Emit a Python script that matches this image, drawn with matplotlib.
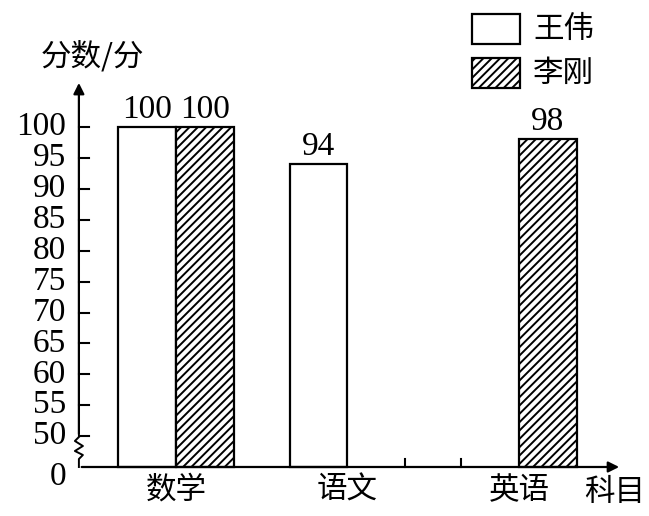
import numpy as np
import matplotlib.pyplot as plt
from matplotlib.patches import Rectangle

subjects = ['数学', '语文', '英语']
wang_scores = [100, 94, None]
li_scores = [100, None, 98]
series_names = ['王伟', '李刚']
y_ticks = [50, 55, 60, 65, 70, 75, 80, 85, 90, 95, 100]

cjk = ['Noto Sans CJK SC', 'DejaVu Sans']
num_font = ['Liberation Serif', 'DejaVu Serif']
plt.rcParams['hatch.linewidth'] = 1.4
li_hatch = '////'


def t(v):
    # broken axis: 0 sits where 45 would be
    return 0 if v == 0 else v - 45


fig = plt.figure(figsize=(6.49, 5.16), dpi=100)
ax = fig.add_axes([0, 0, 1, 1])
ax.set_xlim(-1.026, 2.758)
ax.set_ylim(-7.93, 75.57)
ax.axis('off')

w = 0.338
x = np.arange(len(subjects))
x0 = -0.566
px = 1 / 171.5
py = 1 / 6.18

# bars
for i, (vals, hatch) in enumerate([(wang_scores, None), (li_scores, li_hatch)]):
    off = (i - 0.5) * w
    for xi, v in zip(x, vals):
        if v is None:
            # small mark where the missing bar would have its outer edge
            edge = xi + off + (w / 2 if i == 1 else -w / 2)
            ax.plot([edge, edge], [0, 8 * py], color='black', lw=1.5)
            continue
        ax.bar(xi + off, t(v), w, color='white', edgecolor='black', lw=1.6, hatch=hatch)
        ax.text(xi + off, t(v) + 0.4, str(v), ha='center', va='bottom',
                fontsize=24, family=num_font)

# axes
ax.annotate('', xy=(x0, 62.6), xytext=(x0, 4.85),
            arrowprops=dict(arrowstyle='-|>', lw=1.6, color='black', mutation_scale=16))
ax.annotate('', xy=(2.6, 0), xytext=(x0, 0),
            arrowprops=dict(arrowstyle='-|>', lw=1.6, color='black', mutation_scale=16))
zx = [0, -4, 4, -4, 4, 0, 0]
zy = [437, 441, 446, 451, 455, 459, 467]
ax.plot([x0 + a * px for a in zx], [(467 - b) * py for b in zy], color='black', lw=1.4)

for v in y_ticks:
    ax.plot([x0, x0 + 10 * px], [t(v), t(v)], color='black', lw=1.5)
    ax.text(x0 - 13 * px, t(v), str(v), ha='right', va='center', fontsize=24, family=num_font)
ax.text(x0 - 13 * px, t(0) - 10 * py, '0', ha='right', va='center', fontsize=24, family=num_font)

for xi, s in zip(x, subjects):
    ax.text(xi, -3.8, s, ha='center', va='center', fontsize=22, family=cjk)
ax.text(0.9, 0.045, '科目', transform=ax.transAxes, ha='left', va='center',
        fontsize=22, family=cjk)
ax.text(0.062, 0.89, '分数/分', transform=ax.transAxes, ha='left', va='center',
        fontsize=22, family=cjk)

# legend
for k, (name, hatch) in enumerate(zip(series_names, [None, li_hatch])):
    top = 14 + 44 * k
    ax.add_patch(Rectangle((472 / 649, 1 - (top + 30) / 516), 48 / 649, 30 / 516,
                           transform=ax.transAxes, facecolor='white', edgecolor='black',
                           lw=1.6, hatch=hatch))
    ax.text(533 / 649, 1 - (top + 15) / 516, name, transform=ax.transAxes,
            ha='left', va='center', fontsize=22, family=cjk)

fig.savefig('out.png', dpi=100)
